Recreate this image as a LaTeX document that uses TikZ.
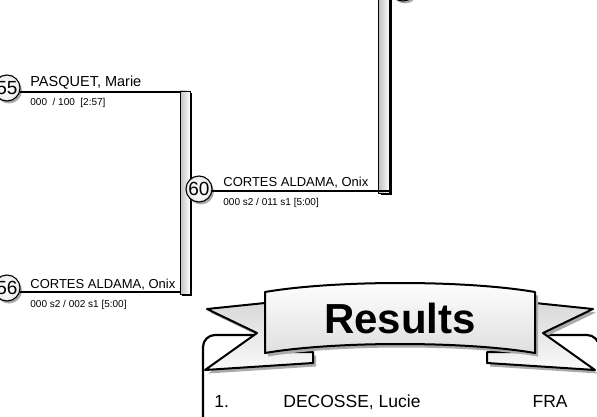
\documentclass[tikz,border=0pt]{standalone}
\usepackage{fontspec}
\setmainfont{Liberation Sans}
\usetikzlibrary{positioning, calc, shadows}
\definecolor{cS}{RGB}{170,170,170}

\begin{document}
\begin{tikzpicture}[x=1pt, y=-1pt, thick,
   seed/.style={circle, draw, line width=1.1pt, inner color=white, outer color=gray!15, inner sep=0pt, minimum size=26pt, font=\fontsize{19}{19}\selectfont, drop shadow={shadow xshift=2pt, shadow yshift=-2.5pt, fill=cS, opacity=1}},
   bar/.style={rectangle, draw, line width=0.5pt, left color=gray!50, right color=white, minimum width=10pt, inner sep=0pt, drop shadow={shadow xshift=2.2pt, shadow yshift=-2pt, fill=black, opacity=1}},
   player/.style={anchor=base west, inner sep=0pt, font=\fontsize{13}{13}\selectfont},
   scoreline/.style={anchor=base west, inner sep=0pt, font=\fontsize{10}{10}\selectfont},
   link/.style={line width=2pt},
   ribbon/.style={draw, line width=2pt, line join=round, drop shadow={shadow xshift=3pt, shadow yshift=-3.5pt, fill=cS, opacity=1}},
   entry/.style={inner sep=0pt, font=\fontsize{17.5}{17.5}\selectfont}]
   \useasboundingbox (0,0) rectangle (597,417);
   \clip (0,0) rectangle (597,417);

   % Bracket bars
   \node[bar, minimum height=203pt] (b1) at (185,192.5) {};
   \node[bar, minimum width=11pt, minimum height=215pt] (b2) at (384,85.5) {};

   % Seeds
   \node[seed] (c55) at (7,88) {55};
   \node[seed] (c56) at (7,288) {56};
   \node[seed] (c60) at (199,189) {60};
   \node[seed] (ctop) at (403,-12) {};

   % Connectors
   \draw[link] (c55.-15) -- (c55.-15 -| b1.west);
   \draw[link] (c56.-15) -- (c56.-15 -| b1.west);
   \draw[link] (c60.-10) -- (c60.-10 -| b2.east);

   % Labels
   \node[player, font=\fontsize{14.5}{14.5}\selectfont] (n55) at (30,87) {PASQUET, Marie};
   \node[scoreline] (s55) at (30,106) {000\ \ / 100\ \ [2:57]};
   \node[player] (n60) at (223,186) {CORTES ALDAMA, Onix};
   \node[scoreline] (s60) at (223,205) {000 s2 / 011 s1 [5:00]};
   \node[player] (n56) at (30,288) {CORTES ALDAMA, Onix};
   \node[scoreline] (s56) at (30,307) {000 s2 / 002 s1 [5:00]};

   % Results panel
   \draw[line width=2.2pt, rounded corners=12pt, fill=white, drop shadow={shadow xshift=2.5pt, shadow yshift=-2.5pt, fill=cS, opacity=1}]
      (203,335) rectangle (599,460);

   % Banner
   \draw[ribbon, top color=gray!30, bottom color=gray!5]
      (207,309) -- (265,303) -- (265,352) -- (313,352) -- (313,363) -- (205,370) -- (257,333) -- cycle;
   \draw[ribbon, top color=gray!30, bottom color=gray!5]
      (593,309) -- (535,303) -- (535,352) -- (487,352) -- (487,363) -- (595,370) -- (543,333) -- cycle;
   \draw[ribbon, top color=white, bottom color=gray!25]
      (265,292) .. controls (335,280) and (465,280) .. (535,292) -- (535,353)
      .. controls (465,341) and (335,341) .. (265,353) -- cycle;
   \node[font=\fontsize{42}{42}\selectfont\bfseries] (res) at (400,318) {Results};

   % Standings
   \node[entry, anchor=base west] (r1) at (214,407) {1.};
   \node[entry, anchor=base west] (r1n) at (283,407) {DECOSSE, Lucie};
   \node[entry, anchor=base east] (r1c) at (568,407) {FRA};
\end{tikzpicture}
\end{document}
